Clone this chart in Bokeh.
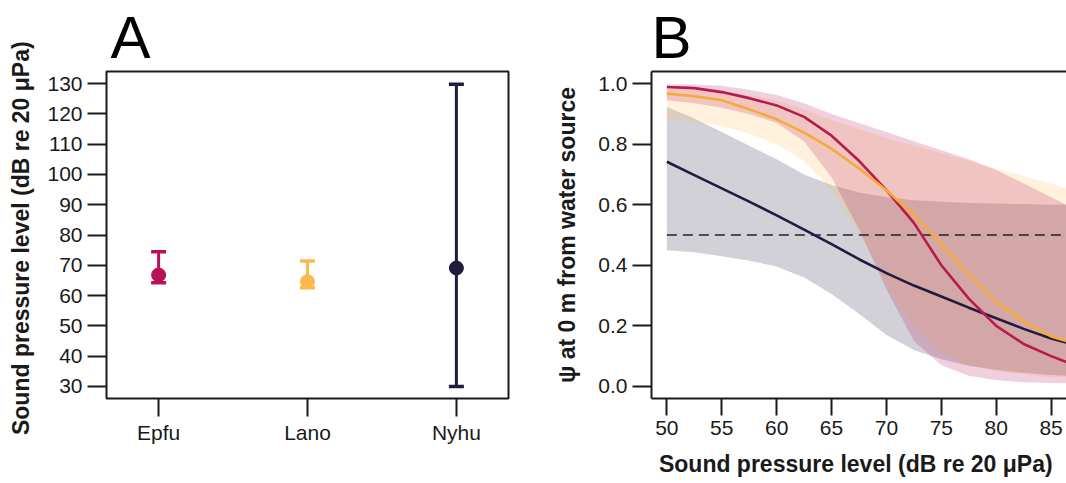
from bokeh.plotting import figure
from bokeh.layouts import row
from bokeh.models import Range1d, FixedTicker, LinearAxis
from bokeh.embed import file_html
from bokeh.resources import INLINE

# ---------------- data: panel A ----------------
species = ["Epfu", "Lano", "Nyhu"]
spl_mean = [66.8, 64.6, 69.1]
spl_lower = [64.2, 62.6, 30.0]
spl_upper = [74.5, 71.4, 129.8]
colors = ["#B5125A", "#FDB84C", "#231B3D"]
y_ticks_a = [30, 40, 50, 60, 70, 80, 90, 100, 110, 120, 130]

# ---------------- data: panel B ----------------
spl_x = [50, 52.5, 55, 57.5, 60, 62.5, 65, 67.5, 70, 72.5, 75, 77.5, 80, 82.5, 85, 86.4]
epfu_psi = [0.989, 0.985, 0.972, 0.952, 0.928, 0.890, 0.828, 0.745, 0.648, 0.540, 0.400, 0.290, 0.200, 0.140, 0.100, 0.080]
epfu_lo = [0.945, 0.935, 0.920, 0.900, 0.870, 0.810, 0.690, 0.520, 0.320, 0.150, 0.070, 0.035, 0.020, 0.014, 0.011, 0.010]
epfu_hi = [0.998, 0.997, 0.993, 0.980, 0.962, 0.935, 0.900, 0.870, 0.840, 0.810, 0.780, 0.750, 0.715, 0.670, 0.625, 0.600]
lano_psi = [0.967, 0.958, 0.945, 0.915, 0.882, 0.838, 0.785, 0.720, 0.648, 0.565, 0.470, 0.370, 0.280, 0.215, 0.165, 0.150]
lano_lo = [0.885, 0.875, 0.860, 0.835, 0.800, 0.745, 0.650, 0.510, 0.340, 0.200, 0.110, 0.070, 0.050, 0.040, 0.030, 0.030]
lano_hi = [0.983, 0.980, 0.975, 0.962, 0.945, 0.915, 0.880, 0.850, 0.820, 0.795, 0.770, 0.745, 0.720, 0.695, 0.670, 0.655]
nyhu_psi = [0.742, 0.698, 0.654, 0.610, 0.565, 0.518, 0.470, 0.420, 0.374, 0.333, 0.297, 0.260, 0.225, 0.190, 0.158, 0.145]
nyhu_lo = [0.450, 0.443, 0.430, 0.415, 0.396, 0.360, 0.305, 0.240, 0.170, 0.120, 0.090, 0.068, 0.055, 0.045, 0.038, 0.035]
nyhu_hi = [0.923, 0.885, 0.840, 0.795, 0.750, 0.700, 0.665, 0.640, 0.625, 0.615, 0.610, 0.606, 0.604, 0.602, 0.600, 0.600]
threshold = 0.5
x_ticks_b = [50, 55, 60, 65, 70, 75, 80, 85]
y_ticks_b = [0.0, 0.2, 0.4, 0.6, 0.8, 1.0]
y_labels_b = ["0.0", "0.2", "0.4", "0.6", "0.8", "1.0"]

FONT = "Liberation Sans"
INK = "#1a1a1a"


def style_axis(ax, tick_out=18, standoff=5):
    ax.major_label_text_font = FONT
    ax.major_label_text_font_size = "21px"
    ax.major_label_text_color = INK
    ax.major_tick_out = tick_out
    ax.major_tick_in = 0
    ax.minor_tick_out = 0
    ax.minor_tick_in = 0
    ax.major_tick_line_width = 2
    ax.major_tick_line_color = INK
    ax.major_label_standoff = standoff
    ax.axis_label_text_font = FONT
    ax.axis_label_text_font_size = "23px"
    ax.axis_label_text_font_style = "bold"
    ax.axis_label_text_color = INK


def panel_title(p, letter, offset):
    p.title.text = letter
    p.title.text_font = FONT
    p.title.text_font_size = "60px"
    p.title.text_font_style = "normal"
    p.title.text_color = "black"
    p.title.align = "left"
    p.title.offset = offset
    p.title.standoff = 2


# ---------------- panel A ----------------
idx = [1, 2, 3]
pA = figure(width=530, height=483, x_range=Range1d(0.65, 3.35), y_range=Range1d(26, 134),
            output_backend="svg", toolbar_location=None,
            min_border_left=106, min_border_right=22, min_border_top=71, min_border_bottom=85)
pA.grid.visible = False
pA.outline_line_color = INK
pA.outline_line_width = 2
pA.outline_line_alpha = 1
panel_title(pA, "A", 4)

pA.segment(x0=idx, y0=spl_lower, x1=idx, y1=spl_upper, line_color=colors, line_width=3)
pA.scatter(idx, spl_upper, marker="dash", size=15, line_color=colors, line_width=3.5)
pA.scatter(idx, spl_lower, marker="dash", size=15, line_color=colors, line_width=3.5)
pA.scatter(idx, spl_mean, size=14, fill_color=colors, line_color=colors)

pA.xaxis.ticker = FixedTicker(ticks=idx)
pA.xaxis.major_label_overrides = {i: s for i, s in zip(idx, species)}
pA.yaxis.ticker = FixedTicker(ticks=y_ticks_a)
pA.yaxis.axis_label = "Sound pressure level (dB re 20  μPa)"
pA.yaxis.axis_label_standoff = 10
style_axis(pA.yaxis[0], 19, 5)
style_axis(pA.xaxis[0], 18, 4)
pA.xaxis.axis_line_color = None
pA.yaxis.axis_line_color = None

# ---------------- panel B ----------------
pB = figure(width=536, height=483, x_range=Range1d(48.6, 86.4), y_range=Range1d(-0.04, 1.04),
            output_backend="svg", toolbar_location=None,
            min_border_left=121, min_border_right=0, min_border_top=71, min_border_bottom=85)
pB.grid.visible = False
pB.outline_line_color = None
panel_title(pB, "B", 0)

series = [(nyhu_lo, nyhu_hi, colors[2]), (lano_lo, lano_hi, colors[1]), (epfu_lo, epfu_hi, colors[0])]
for lo, hi, c in series:
    pB.varea(x=spl_x, y1=lo, y2=hi, fill_color=c, fill_alpha=0.2)

pB.line([spl_x[0], spl_x[-1]], [threshold, threshold], line_color="#222222", line_width=1.5,
        line_dash="10 6")

pB.line(spl_x, nyhu_psi, line_color=colors[2], line_width=2.6)
pB.line(spl_x, epfu_psi, line_color="#B81A4E", line_width=2.6)
pB.line(spl_x, lano_psi, line_color="#F5AB38", line_width=2.6)

pB.xaxis.ticker = FixedTicker(ticks=x_ticks_b)
pB.xaxis.axis_label = "Sound pressure level (dB re 20  μPa)"
pB.xaxis.axis_label_standoff = 13
pB.yaxis.ticker = FixedTicker(ticks=y_ticks_b)
pB.yaxis.major_label_overrides = {v: s for v, s in zip(y_ticks_b, y_labels_b)}
pB.yaxis.axis_label = "ψ at 0 m from water source"
pB.yaxis.axis_label_standoff = 15
style_axis(pB.xaxis[0], 17, 5)
style_axis(pB.yaxis[0], 19, 5)
for ax in (pB.xaxis[0], pB.yaxis[0]):
    ax.axis_line_color = INK
    ax.axis_line_width = 2

top_ax = LinearAxis(ticker=FixedTicker(ticks=[]), major_tick_out=0, major_tick_in=0,
                    minor_tick_out=0, minor_tick_in=0, major_label_standoff=0,
                    axis_line_color=INK, axis_line_width=2)
pB.add_layout(top_ax, "above")

layout = row(pA, pB)
open("out.html", "w").write(file_html(layout, INLINE))
